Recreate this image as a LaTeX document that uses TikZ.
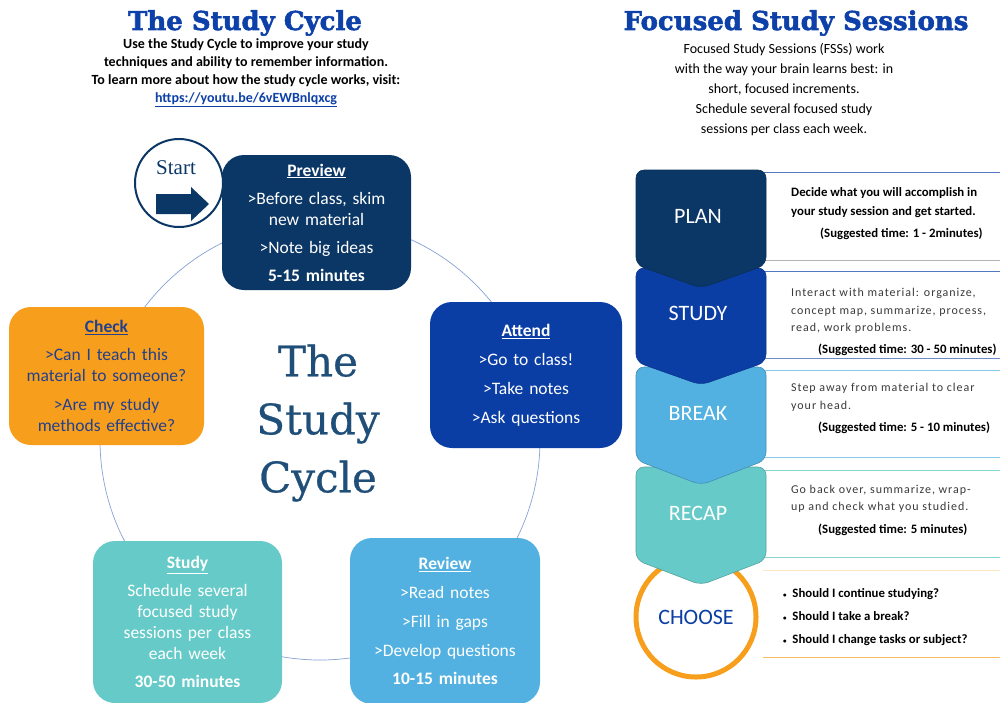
\documentclass[tikz,border=0pt]{standalone}
\usepackage{fontspec}
\setmainfont{Carlito}
\newfontfamily\slab[BoldFeatures={FakeBold=2}]{DejaVu Serif}
\newfontfamily\slabmid[FakeBold=0.6]{DejaVu Serif}
\newfontfamily\tnr{Liberation Serif}
\newfontfamily\spaced[LetterSpace=8]{Carlito}
\definecolor{navy}{HTML}{0B3766}
\definecolor{royal}{HTML}{0B3EA5}
\definecolor{sky}{HTML}{52B1E0}
\definecolor{teal}{HTML}{66CBC8}
\definecolor{orng}{HTML}{F79F1C}
\definecolor{checktext}{HTML}{22408E}
\definecolor{titleblue}{HTML}{0D40A8}
\definecolor{centerblue}{HTML}{1F4E79}
\definecolor{ringline}{HTML}{86A3D6}
\definecolor{descgray}{HTML}{3A3A3A}
\begin{document}
\begin{tikzpicture}[x=1pt,y=-1pt,
  box/.style={rounded corners=22pt, inner sep=0pt, align=center, text=white,
    font=\fontsize{17.5}{21}\selectfont},
  chevlabel/.style={text=white, font=\fontsize{22}{24}\selectfont, inner sep=0},
  desc/.style={anchor=base west, inner sep=0, text=descgray, font=\spaced\fontsize{12}{14}\selectfont},
  descb/.style={anchor=base west, inner sep=0, text=black, font=\bfseries\fontsize{12.8}{14}\selectfont},
  chev/.style={rounded corners=8pt, line width=0.6pt},
  panelline/.style={line width=0.7pt}
]
\useasboundingbox (0,0) rectangle (1000,702);
\fill[white] (0,0) rectangle (1000,702);

% ---------- left titles ----------
\node[font=\slab\bfseries\fontsize{26}{28}\selectfont, text=titleblue, inner sep=0] (ltitle) at (245,23) {The Study Cycle};
\node[align=center, font=\bfseries\fontsize{14}{18}\selectfont, inner sep=0] (lsub) at (246,73)
  {Use the Study Cycle to improve your study\\
   techniques and ability to remember information.\\
   To learn more about how the study cycle works, visit:\\
   \textcolor{titleblue}{\underline{https://youtu.be/6vEWBnlqxcg}}};

% ---------- right titles ----------
\node[font=\slab\bfseries\fontsize{26}{28}\selectfont, text=titleblue, inner sep=0] (rtitle) at (796,23) {Focused Study Sessions};
\node[align=center, font=\fontsize{14}{19.8}\selectfont, inner sep=0] (rsub) at (784,89.5)
  {Focused Study Sessions (FSSs) work\\
   with the way your brain learns best: in\\
   short, focused increments.\\
   Schedule several focused study\\
   sessions per class each week.};

% ---------- study cycle ----------
\draw[ringline, line width=0.7pt] (320,440) circle[radius=220pt];

\node[align=center, font=\slabmid\fontsize{42}{58}\selectfont, text=centerblue, inner sep=0] (center) at (318,423) {The\\Study\\Cycle};

\node[circle, draw=navy, line width=2pt, fill=white, minimum size=88pt, inner sep=0] (start) at (179,183) {};
\node[font=\tnr\fontsize{21}{24}\selectfont, text=navy, inner sep=0] (starttext) at (176,168) {Start};
\fill[navy] (156,194) -- (191,194) -- (191,187) -- (209,204) -- (191,221) -- (191,214) -- (156,214) -- cycle;

\node[box, fill=navy, minimum width=189pt, minimum height=135pt, text width=180pt] (preview) at (316.5,222.5)
  {\textbf{\underline{Preview}}\\[7pt]
   {>}Before class, skim\\ new material\\[7pt]
   {>}Note big ideas\\[7pt]
   \textbf{5-15 minutes}};

\node[box, fill=royal, minimum width=192pt, minimum height=146pt, text width=180pt] (attend) at (526,375)
  {\textbf{\underline{Attend}}\\[8pt]
   {>}Go to class!\\[8pt]
   {>}Take notes\\[8pt]
   {>}Ask questions};

\node[box, fill=sky, minimum width=190pt, minimum height=166pt, text width=182pt] (review) at (445,621)
  {\textbf{\underline{Review}}\\[8pt]
   {>}Read notes\\[8pt]
   {>}Fill in gaps\\[8pt]
   {>}Develop questions\\[7pt]
   \textbf{10-15 minutes}};

\node[box, fill=teal, minimum width=189pt, minimum height=162pt, text width=180pt] (study) at (187.5,622)
  {\textbf{\underline{Study}}\\[7pt]
   Schedule several\\ focused study\\ sessions per class\\ each week\\[7pt]
   \textbf{30-50 minutes}};

\node[box, fill=orng, text=checktext, minimum width=195pt, minimum height=138pt, text width=186pt] (check) at (106.5,376)
  {\textbf{\underline{Check}}\\[7pt]
   {>}Can I teach this\\ material to someone?\\[8pt]
   {>}Are my study\\ methods effective?};

% ---------- focused study sessions ----------
% panels
\draw[panelline, draw=royal!70] (763,172) -- (1000,172);
\draw[panelline, draw=black!30] (763,260) -- (1000,260);
\draw[panelline, draw=royal!70] (763,271) -- (1000,271);
\draw[panelline, draw=royal!60] (763,358) -- (1000,358);
\draw[panelline, draw=sky!70] (763,370) -- (1000,370);
\draw[panelline, draw=sky!70] (763,457) -- (1000,457);
\draw[panelline, draw=teal!80] (763,470) -- (1000,470);
\draw[panelline, draw=teal!80] (763,557) -- (1000,557);
\draw[panelline, draw=orng!25] (763,570) -- (1000,570);
\draw[panelline, draw=orng!70] (763,657) -- (1000,657);

% choose ring
\node[circle, draw=orng, line width=5pt, fill=white, minimum size=120pt, inner sep=0,
  text=royal, font=\fontsize{22}{24}\selectfont] (choose) at (696,617) {CHOOSE};

% chevrons (bottom to top)
\filldraw[chev, fill=teal, draw=teal!80!black] (636,560) -- (636,467) -- (766,467) -- (766,560) -- (701,585) -- cycle;
\filldraw[chev, fill=sky, draw=sky!80!black] (636,460) -- (636,367) -- (766,367) -- (766,460) -- (701,485) -- cycle;
\filldraw[chev, fill=royal, draw=royal!85!black] (636,362) -- (636,268) -- (766,268) -- (766,362) -- (701,385) -- cycle;
\filldraw[chev, fill=navy, draw=navy!85!black] (636,265) -- (636,170) -- (766,170) -- (766,265) -- (701,288) -- cycle;

\node[chevlabel] (plan) at (698,216) {PLAN};
\node[chevlabel] (studyc) at (698,313) {STUDY};
\node[chevlabel] (break) at (698,413) {BREAK};
\node[chevlabel] (recap) at (698,513) {RECAP};

% panel texts
\node[descb] (pl1) at (791,196) {Decide what you will accomplish in};
\node[descb] (pl2) at (791,215) {your study session and get started.};
\node[descb] (pl3) at (820,237) {(Suggested time: 1 - 2minutes)};

\node[desc] (st1) at (791,296) {Interact with material: organize,};
\node[desc] (st2) at (791,314) {concept map, summarize, process,};
\node[desc] (st3) at (791,331) {read, work problems.};
\node[descb] (st4) at (818,353) {(Suggested time: 30 - 50 minutes)};

\node[desc] (br1) at (791,391) {Step away from material to clear};
\node[desc] (br2) at (791,409) {your head.};
\node[descb] (br3) at (818,431) {(Suggested time: 5 - 10 minutes)};

\node[desc] (rc1) at (791,493) {Go back over, summarize, wrap-};
\node[desc] (rc2) at (791,510) {up and check what you studied.};
\node[descb] (rc3) at (818,533) {(Suggested time: 5 minutes)};

\node[descb] (ch1) at (783,597) {{\fontsize{7}{7}\selectfont\textbullet}\ \ Should I continue studying?};
\node[descb] (ch2) at (783,620) {{\fontsize{7}{7}\selectfont\textbullet}\ \ Should I take a break?};
\node[descb] (ch3) at (783,643) {{\fontsize{7}{7}\selectfont\textbullet}\ \ Should I change tasks or subject?};
\end{tikzpicture}
\end{document}
